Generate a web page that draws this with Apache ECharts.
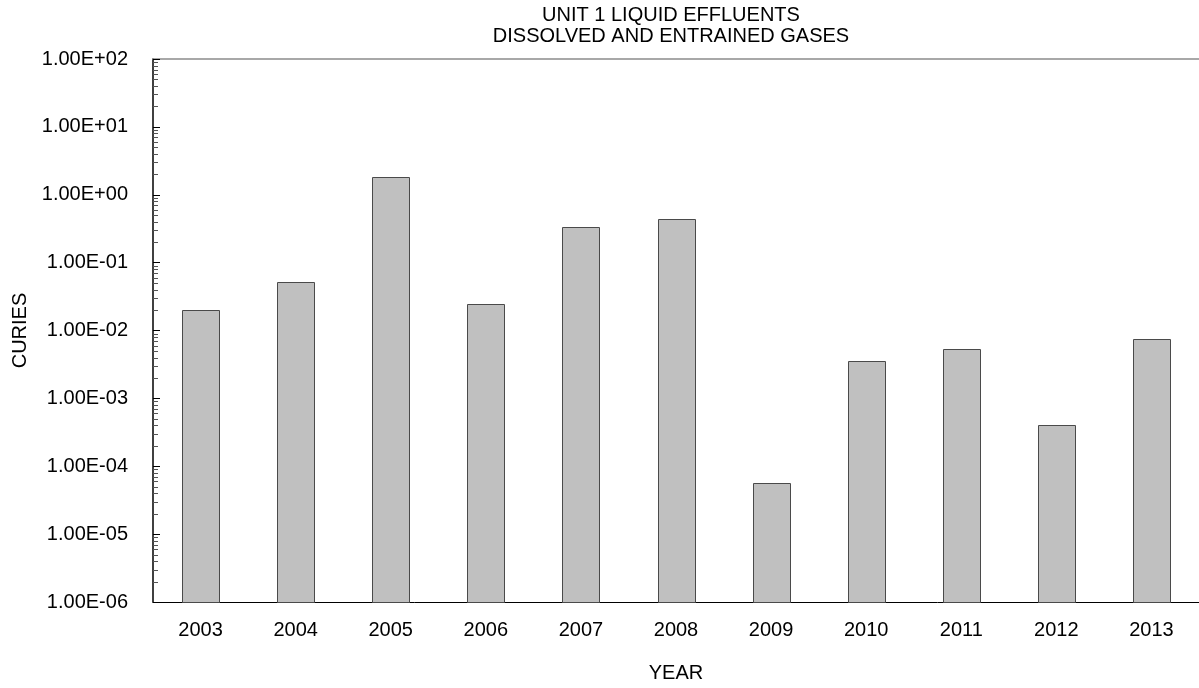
<!DOCTYPE html>
<html>
<head>
<meta charset="utf-8">
<script src="https://cdn.jsdelivr.net/npm/echarts@6/dist/echarts.min.js"></script>
<style>
html,body{margin:0;padding:0;background:#fff;}
#c{width:1199px;height:688px;}
</style>
</head>
<body>
<div id="c"></div>
<script>
const titleLines = ['UNIT 1 LIQUID EFFLUENTS', 'DISSOLVED AND ENTRAINED GASES'];
const years = ['2003','2004','2005','2006','2007','2008','2009','2010','2011','2012','2013'];
const curies = [2.0e-2, 5.2e-2, 1.85, 2.48e-2, 0.335, 0.435, 5.7e-5, 3.5e-3, 5.4e-3, 4.05e-4, 7.55e-3];
const yMin = 1e-6;
const yMax = 1e2;
const yAxisName = 'CURIES';
const xAxisName = 'YEAR';

// minor tick values (2..9 x each decade)
const minorTicks = [];
for (let e = -6; e < 2; e++) {
  for (let m = 2; m <= 9; m++) minorTicks.push(m * Math.pow(10, e));
}

function fmtExp(v) {
  const e = Math.round(Math.log10(v));
  const mant = v / Math.pow(10, e);
  const sign = e < 0 ? '-' : '+';
  const a = Math.abs(e);
  return mant.toFixed(2) + 'E' + sign + (a < 10 ? '0' + a : '' + a);
}

const FONT = '"Liberation Sans", Arial, sans-serif';
const FS = 20;
const chart = echarts.init(document.getElementById('c'));
chart.setOption({
  animation: false,
  backgroundColor: '#fff',
  textStyle: { fontFamily: FONT },
  title: {
    text: titleLines.join('\n'),
    left: 666,
    top: 0,
    textAlign: 'center',
    textStyle: { fontFamily: FONT, fontSize: FS, fontWeight: 'normal', color: '#000', lineHeight: 21 }
  },
  grid: { left: 153, right: 0, top: 59, bottom: 83, containLabel: false },
  xAxis: [{
    type: 'category',
    data: years,
    position: 'bottom',
    axisLine: { lineStyle: { color: '#000', width: 1 } },
    axisTick: { show: false },
    axisLabel: { color: '#000', fontSize: FS, fontFamily: FONT, margin: 18 },
    name: xAxisName,
    nameLocation: 'middle',
    nameGap: 71,
    nameTextStyle: { color: '#000', fontSize: FS, fontFamily: FONT, verticalAlign: 'middle' }
  }, {
    type: 'category',
    data: years,
    position: 'top',
    axisLine: { lineStyle: { color: '#8c8c8c', width: 1.5 } },
    axisTick: { show: false },
    axisLabel: { show: false }
  }],
  yAxis: {
    type: 'log',
    logBase: 10,
    min: yMin,
    max: yMax,
    interval: 1,
    axisLine: { show: true, lineStyle: { color: '#000', width: 1.5 } },
    axisTick: { show: true, inside: true, length: 7, lineStyle: { color: '#000' } },
    splitLine: { show: false },
    axisLabel: {
      color: '#000', fontSize: FS, fontFamily: FONT, margin: 25,
      formatter: fmtExp
    },
    name: yAxisName,
    nameLocation: 'middle',
    nameGap: 133,
    nameRotate: 90,
    nameTextStyle: { color: '#000', fontSize: FS, fontFamily: FONT, verticalAlign: 'middle' }
  },
  series: [{
    type: 'custom',
    name: 'bars',
    data: curies.map((v, i) => [i, v]),
    renderItem: function (params, api) {
      const idx = api.value(0);
      const top = api.coord([idx, api.value(1)]);
      const base = api.coord([idx, yMin]);
      const w = 37;
      return {
        type: 'rect',
        shape: { x: Math.round(top[0] - w / 2) + 0.5, y: Math.round(top[1]) + 0.5, width: w, height: Math.round(base[1]) - Math.round(top[1]) },
        style: { fill: '#c0c0c0', stroke: '#4a4a4a', lineWidth: 1 }
      };
    },
    z: 2
  }, {
    type: 'custom',
    silent: true,
    data: minorTicks.map(v => [0, v]),
    renderItem: function (params, api) {
      const p = api.coord([0, api.value(1)]);
      const x0 = params.coordSys.x;
      return {
        type: 'line',
        shape: { x1: x0, y1: Math.round(p[1]) + 0.5, x2: x0 + 5, y2: Math.round(p[1]) + 0.5 },
        style: { stroke: '#555', lineWidth: 1 }
      };
    },
    z: 5
  }]
});
</script>
</body>
</html>
